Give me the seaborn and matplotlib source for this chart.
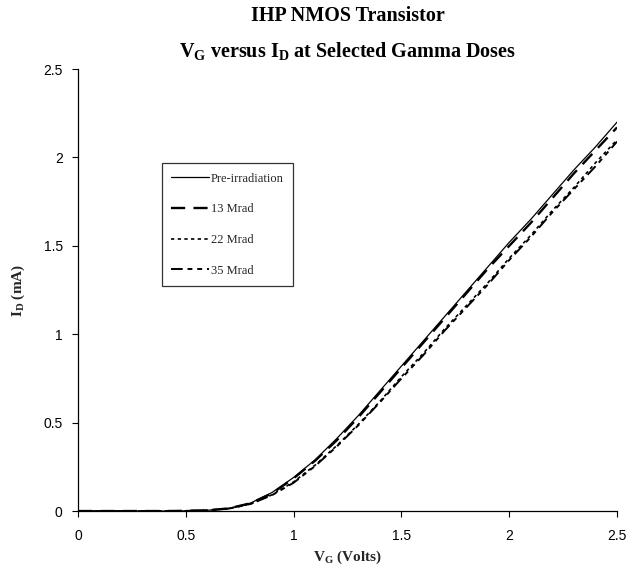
import numpy as np
import pandas as pd
import matplotlib
matplotlib.use("Agg")
import matplotlib.pyplot as plt
import seaborn as sns

# Gate voltage sweep (V) and drain current (mA) for each dose
vg = [0.0, 0.1, 0.2, 0.3, 0.4, 0.5, 0.6, 0.7, 0.8, 0.9, 1.0, 1.1, 1.2,
      1.3, 1.4, 1.5, 1.6, 1.7, 1.8, 1.9, 2.0, 2.1, 2.2, 2.3, 2.4, 2.5]
id_pre = [0.0, 0.0, 0.0, 0.0, 0.0, 0.001, 0.004, 0.015, 0.045, 0.105, 0.19,
          0.29, 0.41, 0.54, 0.68, 0.82, 0.96, 1.10, 1.24, 1.38, 1.52, 1.65,
          1.79, 1.93, 2.06, 2.20]
id_13 = [0.0, 0.0, 0.0, 0.0, 0.0, 0.001, 0.004, 0.015, 0.044, 0.10, 0.185,
         0.285, 0.40, 0.53, 0.67, 0.81, 0.95, 1.09, 1.23, 1.37, 1.50, 1.63,
         1.77, 1.91, 2.04, 2.17]
id_22 = [0.0, 0.0, 0.0, 0.0, 0.0, 0.001, 0.004, 0.014, 0.040, 0.092, 0.165,
         0.26, 0.37, 0.49, 0.62, 0.76, 0.89, 1.03, 1.16, 1.29, 1.43, 1.56,
         1.70, 1.83, 1.97, 2.10]
id_35 = [0.0, 0.0, 0.0, 0.0, 0.0, 0.001, 0.004, 0.014, 0.040, 0.090, 0.16,
         0.255, 0.365, 0.485, 0.615, 0.75, 0.88, 1.02, 1.15, 1.28, 1.42, 1.55,
         1.69, 1.82, 1.95, 2.09]
labels = ["Pre-irradiation", "13 Mrad", "22 Mrad", "35 Mrad"]
ticks = [0, 0.5, 1, 1.5, 2, 2.5]
tick_labels = ["0", "0.5", "1", "1.5", "2", "2.5"]

sns.set_style("ticks")
plt.rcParams["font.family"] = ["Liberation Sans", "DejaVu Sans"]
plt.rcParams["mathtext.fontset"] = "custom"
plt.rcParams["mathtext.rm"] = "Liberation Serif"
plt.rcParams["mathtext.bf"] = "Liberation Serif:bold"
plt.rcParams["mathtext.it"] = "Liberation Serif:italic"

fig = plt.figure(figsize=(6.29, 5.71), dpi=100)
ax = fig.add_axes([0.124, 0.105, 0.857, 0.774])

styles = [
    dict(linestyle="-", linewidth=0.9),
    dict(linestyle=(0, (6, 3.5)), linewidth=1.7),
    dict(linestyle=(0, (2, 2)), linewidth=1.2),
    dict(linestyle=(0, (6, 2.5, 2.5, 2.5, 2.5, 2.5)), linewidth=1.4),
]
for vals, lab, st in zip([id_pre, id_13, id_22, id_35], labels, styles):
    df = pd.DataFrame({"VG": vg, "ID": vals})
    sns.lineplot(data=df, x="VG", y="ID", ax=ax, color="black", label=lab, **st)

ax.set_xlim(0, 2.5)
ax.set_ylim(0, 2.5)
ax.set_xticks(ticks)
ax.set_xticklabels(tick_labels)
ax.set_yticks(ticks)
ax.set_yticklabels(tick_labels)
ax.tick_params(direction="out", length=4, width=0.8, labelsize=10,
               colors="black", pad=7)
ax.tick_params(axis="x", pad=9)
sns.despine(ax=ax)
for s in ["left", "bottom"]:
    ax.spines[s].set_color("black")
    ax.spines[s].set_linewidth(0.9)

lab_font = dict(family="Liberation Serif", fontweight="bold", fontsize=11)
ax.set_xlabel(r"$\mathbf{V_G}$ (Volts)", labelpad=4, **lab_font)
ax.set_ylabel(r"$\mathbf{I_D}$ (mA)", labelpad=12, **lab_font)

fig.text(0.553, 0.972, "IHP NMOS Transistor", ha="center", va="center",
         family="Liberation Serif", fontweight="bold", fontsize=14.5,
         color="black")
fig.text(0.553, 0.911, r"$\mathbf{V_G}$ versus $\mathbf{I_D}$ at Selected Gamma Doses",
         ha="center", va="center", family="Liberation Serif",
         fontweight="bold", fontsize=14.5, color="black")

leg = ax.legend(loc="upper left", bbox_to_anchor=(0.156, 0.787),
                prop=dict(family="Liberation Serif", size=9),
                frameon=True, fancybox=False, edgecolor="black",
                handlelength=3.0, handletextpad=0.15, labelspacing=1.5,
                borderpad=0.75, borderaxespad=0)
leg.get_frame().set_linewidth(0.9)

fig.savefig("out.png", dpi=100)
